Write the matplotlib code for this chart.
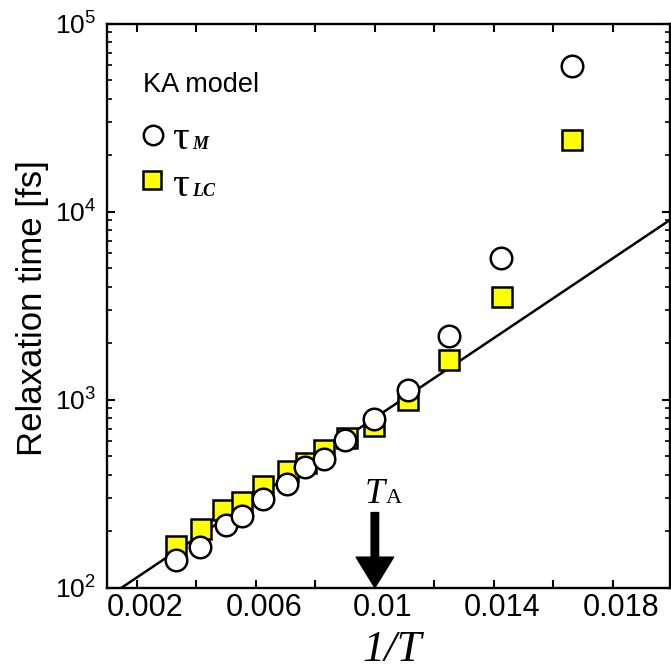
import numpy as np
import matplotlib
matplotlib.use("Agg")
import matplotlib.pyplot as plt
from matplotlib.ticker import FixedLocator, FixedFormatter, LogLocator, NullFormatter, FuncFormatter
from matplotlib.transforms import ScaledTranslation

# ---- data ----
inv_T_M = [0.00331, 0.00414, 0.00499, 0.00552, 0.00625, 0.00705, 0.00765,
           0.00828, 0.00899, 0.00998, 0.01110, 0.01249, 0.01424, 0.01663]
tau_M = [141, 164, 216, 240, 295, 354, 441, 483, 607, 785, 1131, 2182, 5682, 59670]

inv_T_LC = [0.00331, 0.00415, 0.00490, 0.00554, 0.00625, 0.00709, 0.00767,
            0.00830, 0.00905, 0.00998, 0.01110, 0.01249, 0.01426, 0.01663]
tau_LC = [167, 206, 259, 285, 349, 416, 459, 541, 627, 721, 992, 1634, 3521, 24070]

fit_x = [0.00149, 0.01990]
fit_tau = [100, 9000]

x_ticks = [0.002, 0.004, 0.006, 0.008, 0.010, 0.012, 0.014, 0.016, 0.018]
x_tick_labels = ["0.002", "", "0.006", "", "0.01", "", "0.014", "", "0.018"]

T_A_x = 0.010
arrow_top = 251

plt.rcParams['font.family'] = ['Liberation Sans', 'DejaVu Sans']
plt.rcParams['mathtext.fontset'] = 'custom'
plt.rcParams['mathtext.rm'] = 'Liberation Sans'

W, H = 671, 670
fig = plt.figure(figsize=(W / 100, H / 100), dpi=100)
L, R, T, B = 107, 669.5, 23.7, 587.7
ax = fig.add_axes([L / W, 1 - B / H, (R - L) / W, (B - T) / H])

ax.set_yscale('log')
ax.set_xlim(0.001, 0.0199)
ax.set_ylim(100, 1e5)

# fit line
ax.plot(fit_x, fit_tau, color='black', lw=1.8, zorder=2)

# data
ax.plot(inv_T_LC, tau_LC, linestyle='none', marker='s', ms=14.5, mfc='#FFFF00',
        mec='black', mew=1.8, zorder=3)
ax.plot(inv_T_M, tau_M, linestyle='none', marker='o', ms=15.5, mfc='white',
        mec='black', mew=1.8, zorder=4)

# spines & ticks
for s in ax.spines.values():
    s.set_linewidth(1.7)
ax.xaxis.set_major_locator(FixedLocator(x_ticks))
ax.xaxis.set_major_formatter(FixedFormatter(x_tick_labels))
ax.xaxis.set_minor_locator(FixedLocator([]))
ax.yaxis.set_major_locator(LogLocator(base=10, numticks=10))
ax.yaxis.set_minor_locator(LogLocator(base=10, subs=np.arange(2, 10), numticks=20))
ax.yaxis.set_minor_formatter(NullFormatter())
ax.yaxis.set_major_formatter(FuncFormatter(
    lambda v, p: r'$\mathregular{10^{%d}}$' % int(round(np.log10(v)))))

ax.tick_params(axis='x', which='major', direction='in', top=True, bottom=True,
               length=6, width=1.5, labelsize=22, pad=4)
ax.tick_params(axis='y', which='major', direction='in', left=True, right=True,
               length=6, width=1.5, labelsize=19, pad=8)
ax.tick_params(axis='y', which='minor', direction='in', left=True, right=True,
               length=3.6, width=1.2)

offset = ScaledTranslation(8 / 100, 0, fig.dpi_scale_trans)
for lab in ax.get_xticklabels():
    lab.set_transform(lab.get_transform() + offset)

# axis labels
fig.text(33 / W, 1 - 308 / H, "Relaxation time [fs]", rotation=90,
         ha='center', va='center', fontsize=25)
fig.text(392 / W, 1 - 661 / H, "1/T", ha='center', va='baseline',
         fontsize=32, family=['Liberation Serif'], style='italic')

# T_A arrow
ax.annotate('', xy=(T_A_x, 100), xytext=(T_A_x, arrow_top),
            arrowprops=dict(arrowstyle='simple,head_width=1.35,head_length=1.1,tail_width=0.27',
                            mutation_scale=20, color='black', shrinkA=0, shrinkB=0),
            annotation_clip=False, zorder=5)
fig.text(365 / W, 1 - 503 / H, "T", ha='left', va='baseline', fontsize=26,
         family=['Liberation Serif'], style='italic')
fig.text(386 / W, 1 - 503 / H, "A", ha='left', va='baseline', fontsize=16,
         family=['Liberation Serif'])

# legend (manual)
fig.text(142.7 / W, 1 - 91.7 / H, "KA model", ha='left', va='baseline', fontsize=19.5)
ax.plot([153.3 / W], [1 - 135 / H], transform=fig.transFigure, marker='o', ms=14,
        mfc='white', mec='black', mew=1.8, linestyle='none', clip_on=False)
ax.plot([152.3 / W], [1 - 180 / H], transform=fig.transFigure, marker='s', ms=13.5,
        mfc='#FFFF00', mec='black', mew=1.8, linestyle='none', clip_on=False)
fig.text(171.7 / W, 1 - 149 / H, "\u03c4", ha='left', va='baseline', fontsize=30,
         family=['Liberation Serif'])
fig.text(192 / W, 1 - 149 / H, "M", ha='left', va='baseline', fontsize=13,
         family=['Liberation Serif'], style='italic', weight='bold')
fig.text(171.7 / W, 1 - 195.7 / H, "\u03c4", ha='left', va='baseline', fontsize=30,
         family=['Liberation Serif'])
fig.text(192 / W, 1 - 196 / H, "LC", ha='left', va='baseline', fontsize=13,
         family=['Liberation Serif'], style='italic', weight='bold')

fig.savefig("out.png", dpi=100)
